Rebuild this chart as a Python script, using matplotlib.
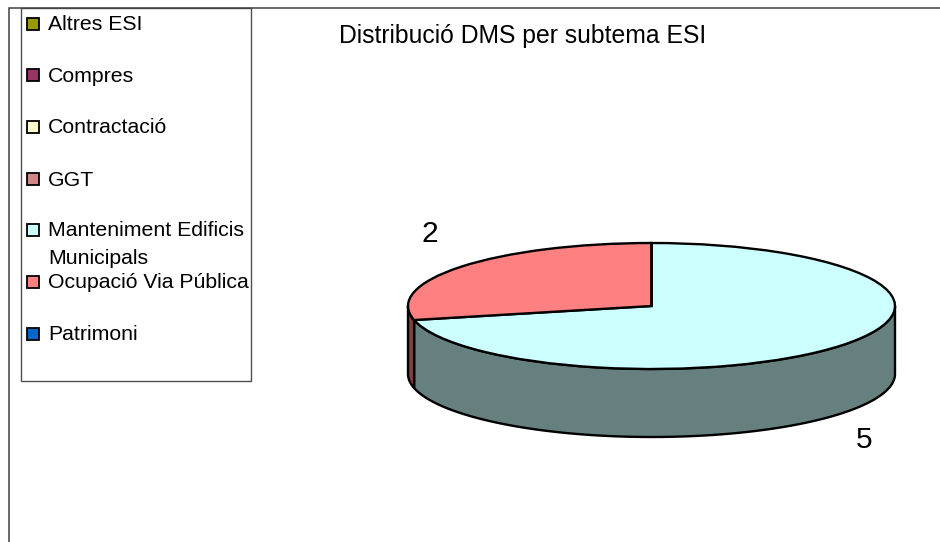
import numpy as np
import matplotlib
matplotlib.use("Agg")
import matplotlib.pyplot as plt
from matplotlib.patches import Rectangle, Polygon

plt.rcParams['font.family'] = ['Liberation Sans', 'DejaVu Sans']

categories = ['Altres ESI', 'Compres', 'Contractació', 'GGT',
              'Manteniment Edificis\nMunicipals', 'Ocupació Via Pública', 'Patrimoni']
values = [0, 0, 0, 0, 5, 2, 0]
colors = ['#999900', '#993366', '#FFFFCC', '#CC8888', '#CCFFFF', '#FF8080', '#0066CC']
wall_colors = ['#4C4C00', '#4C1933', '#808066', '#664444', '#668080', '#804040', '#003366']
title = 'Distribució DMS per subtema ESI'

W, H = 940, 542
fig = plt.figure(figsize=(W / 100, H / 100), dpi=100, facecolor='white')

ov = fig.add_axes([0, 0, 1, 1], zorder=3)
ov.set_xlim(0, W)
ov.set_ylim(H, 0)
ov.axis('off')
ov.patch.set_alpha(0)

ov.plot([9, 9, W], [H, 8, 8], color='#404040', lw=1.1, solid_joinstyle='miter')

ov.add_patch(Rectangle((21, 8), 230, 373, fc='white', ec='#505050', lw=1.0))
marker_y = [24, 75, 127, 179, 230, 282, 334]
baseline_y = [30, 82, 133, 186, 236, 288, 340]
LEG_FS = 15.35
for cat, col, my, by in zip(categories, colors, marker_y, baseline_y):
    ov.add_patch(Rectangle((27.2, my - 5.8), 11.6, 11.6, fc=col, ec='black', lw=1.3))
    for i, line in enumerate(cat.split('\n')):
        ov.text(48, by + 28 * i, line, fontsize=LEG_FS, va='baseline', ha='left', color='black')

ov.text(523, 43, title, fontsize=17.8, ha='center', va='baseline', color='black')
ov.text(430, 242, '2', fontsize=21.5, ha='center', va='baseline', color='black')
ov.text(864, 448, '5', fontsize=21.5, ha='center', va='baseline', color='black')

cx, cy, a, b, depth = 651.5, 306, 243.5, 63, 68
ax = fig.add_axes([(cx - a) / W, 1 - (cy + b) / H, 2 * a / W, 2 * b / H], zorder=2)
wedges, _ = ax.pie(values, colors=colors, startangle=90, counterclock=False, radius=1,
                   wedgeprops=dict(edgecolor='black', linewidth=1.7), normalize=True)
ax.set_aspect('auto')
ax.set_xlim(-1, 1)
ax.set_ylim(-1, 1)
for w in wedges:
    w.set_clip_on(False)
    w.set_zorder(3)

d = depth / b
frac = np.array(values, float) / sum(values)
ends = 90 - 360 * np.cumsum(frac)
starts = np.r_[90, ends[:-1]]
for s, e, wc, v in zip(starts, ends, wall_colors, values):
    if v == 0:
        continue
    s2, e2 = min(s, 0), max(e, -180)
    if s2 <= e2:
        continue
    th = np.radians(np.linspace(s2, e2, 200))
    x, y = np.cos(th), np.sin(th)
    pts = np.r_[np.c_[x, y], np.c_[x[::-1], y[::-1] - d]]
    ax.add_patch(Polygon(pts, closed=True, fc=wc, ec='black', lw=1.7, clip_on=False,
                         joinstyle='miter', zorder=2))

fig.savefig('out.png', dpi=100)
